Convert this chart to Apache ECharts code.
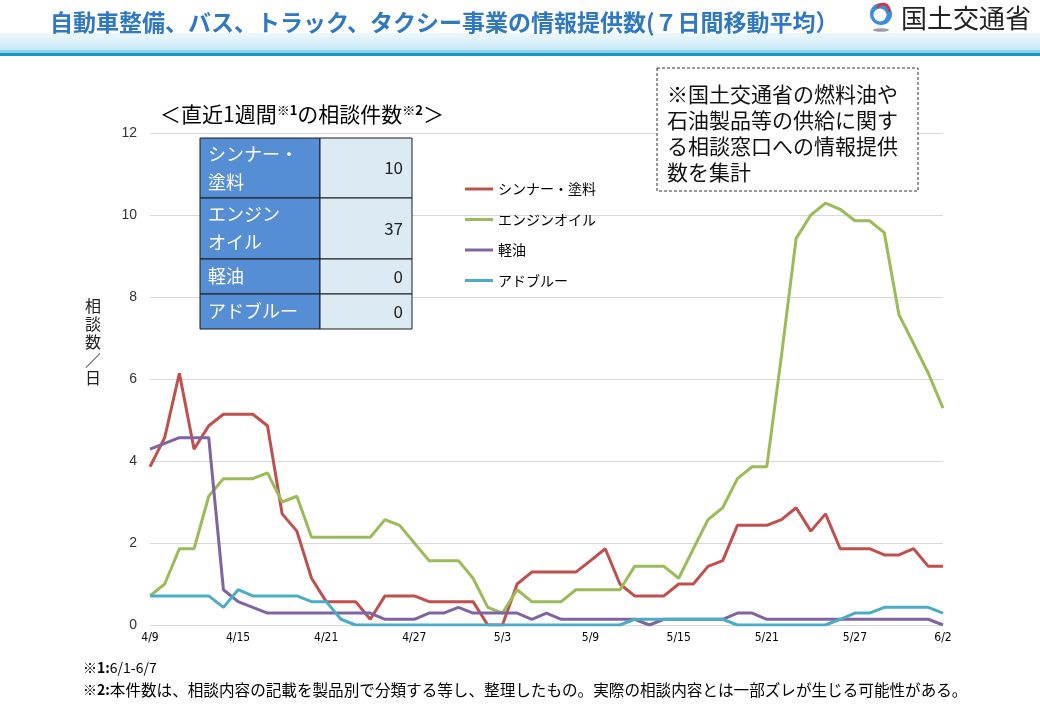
<!DOCTYPE html>
<html>
<head>
<meta charset="utf-8">
<script src="https://cdn.jsdelivr.net/npm/echarts@6/dist/echarts.min.js"></script>
<style>
html,body{margin:0;padding:0;background:#fff;}
#c{width:1040px;height:720px;}
</style>
</head>
<body>
<div id="c"></div>
<script>
const dates = ['4/9','4/10','4/11','4/12','4/13','4/14','4/15','4/16','4/17','4/18','4/19','4/20','4/21','4/22','4/23','4/24','4/25','4/26','4/27','4/28','4/29','4/30',
'5/1','5/2','5/3','5/4','5/5','5/6','5/7','5/8','5/9','5/10','5/11','5/12','5/13','5/14','5/15','5/16','5/17','5/18','5/19','5/20','5/21','5/22','5/23','5/24','5/25','5/26','5/27','5/28','5/29','5/30','5/31',
'6/1','6/2'];
const seriesNames = ['シンナー・塗料','エンジンオイル','軽油','アドブルー'];
const thinner = [3.86,4.57,6.14,4.29,4.86,5.14,5.14,5.14,4.86,2.71,2.29,1.14,0.57,0.57,0.57,0.14,0.71,0.71,0.71,0.57,0.57,0.57,0.57,0,0,1.0,1.29,1.29,1.29,1.29,1.57,1.86,1.0,0.71,0.71,0.71,1.0,1.0,1.43,1.57,2.43,2.43,2.43,2.57,2.86,2.29,2.71,1.86,1.86,1.86,1.71,1.71,1.86,1.43,1.43];
const engineOil = [0.71,1.0,1.86,1.86,3.14,3.57,3.57,3.57,3.71,3.0,3.14,2.14,2.14,2.14,2.14,2.14,2.57,2.43,2.0,1.57,1.57,1.57,1.14,0.43,0.29,0.86,0.57,0.57,0.57,0.86,0.86,0.86,0.86,1.43,1.43,1.43,1.14,1.86,2.57,2.86,3.57,3.86,3.86,6.57,9.43,10.0,10.29,10.14,9.86,9.86,9.57,7.57,6.86,6.14,5.29];
const diesel = [4.29,4.43,4.57,4.57,4.57,0.86,0.57,0.43,0.29,0.29,0.29,0.29,0.29,0.29,0.29,0.29,0.14,0.14,0.14,0.29,0.29,0.43,0.29,0.29,0.29,0.29,0.14,0.29,0.14,0.14,0.14,0.14,0.14,0.14,0,0.14,0.14,0.14,0.14,0.14,0.29,0.29,0.14,0.14,0.14,0.14,0.14,0.14,0.14,0.14,0.14,0.14,0.14,0.14,0];
const adblue = [0.71,0.71,0.71,0.71,0.71,0.43,0.86,0.71,0.71,0.71,0.71,0.57,0.57,0.14,0,0,0,0,0,0,0,0,0,0,0,0,0,0,0,0,0,0,0,0.14,0.14,0.14,0.14,0.14,0.14,0.14,0,0,0,0,0,0,0,0.14,0.29,0.29,0.43,0.43,0.43,0.43,0.29];
const colors = ['#C0504D','#9BBB59','#8064A2','#4BACC6'];
const yTicks = [0,2,4,6,8,10,12];
const tableNames = ['シンナー・\n塗料','エンジン\nオイル','軽油','アドブルー'];
const tableCounts = ['10','37','0','0'];
const titleText = '自動車整備、バス、トラック、タクシー事業の情報提供数(７日間移動平均）';
const noteLines = ['※国土交通省の燃料油や','石油製品等の供給に関す','る相談窓口への情報提供','数を集計'];
const foot1 = '6/1-6/7';
const foot2 = '本件数は、相談内容の記載を製品別で分類する等し、整理したもの。実際の相談内容とは一部ズレが生じる可能性がある。';

const JP = '"Noto Sans CJK JP","Noto Sans",sans-serif';

const chart = echarts.init(document.getElementById('c'), null, {renderer:'canvas'});

const rowY = [138,198,259,294,329];
const tableEls = [];
for (let i=0;i<4;i++){
  const y0 = rowY[i], h = rowY[i+1]-rowY[i];
  tableEls.push({type:'rect', shape:{x:200,y:y0,width:120,height:h}, style:{fill:'#558ED5',stroke:'#1a1a1a',lineWidth:1}, z:20});
  tableEls.push({type:'rect', shape:{x:320,y:y0,width:92,height:h}, style:{fill:'#DCEAF3',stroke:'#1a1a1a',lineWidth:1}, z:20});
  tableEls.push({type:'text', z:21, style:{text:tableNames[i], x:208, y:y0+h/2, textAlign:'left', textVerticalAlign:'middle', fill:'#fff', font:'18px '+JP, lineHeight:28}});
  tableEls.push({type:'text', z:21, style:{text:tableCounts[i], x:403, y:y0+h/2, textAlign:'right', textVerticalAlign:'middle', fill:'#222', font:'17px '+JP}});
}

const noteEls = [
  {type:'rect', z:20, shape:{x:657,y:68,width:261,height:123}, style:{fill:'#fff',stroke:'#333',lineWidth:1,lineDash:[3,2]}}
];
noteLines.forEach((t,i)=>{
  noteEls.push({type:'text', z:21, style:{text:t, x:667, y:94+i*26, textAlign:'left', textVerticalAlign:'middle', fill:'#111', font:'21px '+JP}});
});

const option = {
  animation:false,
  backgroundColor:'#fff',
  color:colors,
  grid:{left:150,right:97,top:133,bottom:95,containLabel:false},
  legend:{
    orient:'vertical', left:460, top:176, icon:'rect', itemWidth:28, itemHeight:3, itemGap:14.5,
    data:seriesNames,
    textStyle:{fontSize:14, color:'#000', fontFamily:JP, lineHeight:16}
  },
  xAxis:{
    type:'category', data:dates, boundaryGap:false,
    axisLine:{show:false}, axisTick:{show:false},
    axisLabel:{interval:5, margin:7, fontSize:12, color:'#000', fontFamily:'"DejaVu Sans Condensed","Liberation Sans Narrow",sans-serif'},
    splitLine:{show:false}
  },
  yAxis:{
    type:'value', min:0, max:12, interval:2,
    axisLine:{show:false}, axisTick:{show:false},
    axisLabel:{margin:13, fontSize:14, color:'#333', fontFamily:'"Liberation Sans",Arial,sans-serif'},
    splitLine:{lineStyle:{color:'#d9d9d9', width:1}}
  },
  series:[
    {name:seriesNames[0], type:'line', data:thinner, symbol:'none', lineStyle:{width:3, color:colors[0]}, itemStyle:{color:colors[0]}},
    {name:seriesNames[1], type:'line', data:engineOil, symbol:'none', lineStyle:{width:3, color:colors[1]}, itemStyle:{color:colors[1]}},
    {name:seriesNames[2], type:'line', data:diesel, symbol:'none', lineStyle:{width:3, color:colors[2]}, itemStyle:{color:colors[2]}},
    {name:seriesNames[3], type:'line', data:adblue, symbol:'none', lineStyle:{width:3, color:colors[3]}, itemStyle:{color:colors[3]}}
  ],
  graphic:[
    {type:'rect', shape:{x:0,y:33,width:1040,height:17}, style:{fill:new echarts.graphic.LinearGradient(0,0,0,1,[{offset:0,color:'#eef8fd'},{offset:1,color:'#c9e9f6'}])}},
    {type:'rect', shape:{x:0,y:50,width:1040,height:3}, style:{fill:'#8fd3ea'}},
    {type:'rect', shape:{x:0,y:53,width:1040,height:3}, style:{fill:'#1697c3'}},
    {type:'text', style:{text:titleText, x:50, y:22, textAlign:'left', textVerticalAlign:'middle', fill:'#2F78C2', font:'bold 23px '+JP}},
    {type:'circle', shape:{cx:881,cy:14,r:11}, style:{fill:'#3a8fdc'}},
    {type:'circle', shape:{cx:880,cy:15,r:6.5}, style:{fill:'#fff'}},
    {type:'arc', shape:{cx:883,cy:10,r:6,startAngle:-Math.PI*0.9,endAngle:Math.PI*0.1}, style:{stroke:'#e03030',lineWidth:2.5,fill:null}},
    {type:'ellipse', shape:{cx:881,cy:30,rx:8,ry:1.8}, style:{fill:'#9aa0a6'}},
    {type:'text', style:{text:'国土交通省', x:901, y:18, textAlign:'left', textVerticalAlign:'middle', fill:'#222', font:'26px '+JP}},
    {type:'text', style:{
      text:'{a|＜直近1週間}{s|※1}{a|の相談件数}{s|※2}{a|＞}', x:160, y:114, textAlign:'left', textVerticalAlign:'middle',
      rich:{a:{font:'21px '+JP, fill:'#000', verticalAlign:'bottom'}, s:{font:'bold 13px '+JP, fill:'#000', verticalAlign:'top'}}
    }},
    {type:'text', style:{text:'相\n談\n数\n／\n日', x:93, y:297, textAlign:'center', textVerticalAlign:'top', fill:'#222', font:'16px '+JP, lineHeight:18}},
    {type:'text', style:{text:'{b|※1:}{n|'+foot1+'}', x:83, y:668, textAlign:'left', textVerticalAlign:'middle',
      rich:{b:{font:'bold 14px '+JP, fill:'#000'}, n:{font:'14px '+JP, fill:'#000'}}}},
    {type:'text', style:{text:'{b|※2:}{n|'+foot2+'}', x:83, y:690, textAlign:'left', textVerticalAlign:'middle',
      rich:{b:{font:'bold 14px '+JP, fill:'#000'}, n:{font:'15.6px '+JP, fill:'#000'}}}}
  ].concat(tableEls, noteEls)
};
chart.setOption(option);
</script>
</body>
</html>
